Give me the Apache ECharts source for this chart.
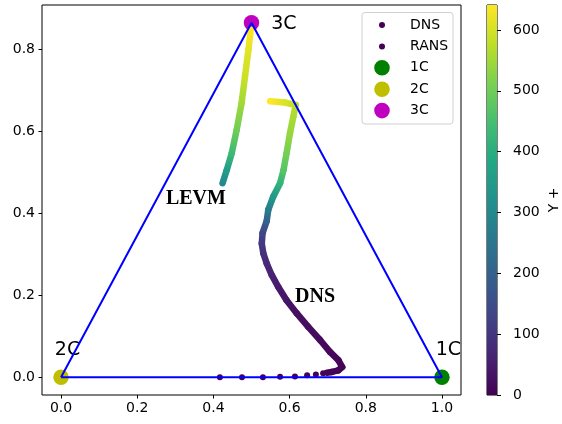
<!DOCTYPE html>
<html>
<head>
<meta charset="utf-8">
<script src="https://cdn.jsdelivr.net/npm/echarts@6/dist/echarts.min.js"></script>
<style>
html,body{margin:0;padding:0;background:#fff;}
#chart{width:562px;height:424px;}
</style>
</head>
<body>
<div id="chart"></div>
<script>
// ---------------- data ----------------
// DNS near-wall points (drawn as separate dots on the 2C line)
const dnsWallX  = [0.417, 0.475, 0.530, 0.575, 0.614, 0.646, 0.669, 0.688];
const dnsWallY  = [0.000, 0.000, 0.000, 0.001, 0.002, 0.005, 0.007, 0.010];
const dnsWallYp = [0.3, 0.8, 1.3, 1.9, 2.5, 3.1, 3.7, 4.3];

// DNS continuous trajectory
const dnsX  = [0.698, 0.711, 0.728, 0.738, 0.728, 0.706, 0.680, 0.649, 0.619, 0.592, 0.570, 0.553, 0.540, 0.531, 0.527, 0.529, 0.540, 0.544, 0.557, 0.575, 0.584, 0.592, 0.601, 0.610, 0.616, 0.588, 0.549];
const dnsY  = [0.011, 0.013, 0.017, 0.025, 0.042, 0.062, 0.091, 0.123, 0.156, 0.188, 0.221, 0.250, 0.278, 0.303, 0.327, 0.352, 0.382, 0.409, 0.441, 0.474, 0.506, 0.547, 0.596, 0.637, 0.665, 0.671, 0.674];
const dnsYp = [4.6, 5, 6, 8, 10, 13, 17, 22, 28, 36, 46, 58, 72, 88, 105, 130, 200, 265, 345, 415, 470, 505, 540, 560, 575, 605, 641];

// RANS (LEVM) trajectory
const levmX  = [0.424, 0.435, 0.448, 0.461, 0.474, 0.483, 0.492, 0.498];
const levmY  = [0.474, 0.506, 0.547, 0.604, 0.670, 0.735, 0.800, 0.849];
const levmYp = [300, 350, 435, 500, 550, 590, 615, 641];

// limiting states
const cornerNames = ['1C', '2C', '3C'];
const cornerX = [1.0, 0.0, 0.5];
const cornerY = [0.0, 0.0, 0.866];

// ticks
const xTicks = [0, 0.2, 0.4, 0.6, 0.8, 1.0];
const yTicks = [0, 0.2, 0.4, 0.6, 0.8];
const cbTicks = [0, 100, 200, 300, 400, 500, 600];
const cbMax = 641;

// ---------------- styles ----------------
const viridis = ['#440154','#482475','#414487','#355f8d','#2a788e','#21918c','#22a884','#44bf70','#7ad151','#bddf26','#fde725'];
const cornerColors = {'1C':'#008000','2C':'#bfbf00','3C':'#bf00bf'};
const FONT = 'DejaVu Sans';

const zip3 = (a,b,c) => a.map((v,i)=>[v,b[i],c[i]]);
const dnsWallData = zip3(dnsWallX, dnsWallY, dnsWallYp);
const dnsData = zip3(dnsX, dnsY, dnsYp);
const levmData = zip3(levmX, levmY, levmYp);
// triangle vertices taken from corner arrays: 2C -> 1C -> 3C -> 2C
const triData = [1,0,2,1].map(i => [cornerX[i], cornerY[i]]);

const yMinData = Math.min(...cornerY), yMaxData = Math.max(...cornerY);
const yPad = (yMaxData - yMinData) * 0.05;
const xPad = 0.05;

function renderSeg(params, api) {
  const i = params.dataIndexInside;
  if (i === 0) return null;
  const p0 = api.coord([api.value(0, i-1), api.value(1, i-1)]);
  const p1 = api.coord([api.value(0, i), api.value(1, i)]);
  const c0 = api.visual('color', i-1);
  const c1 = api.visual('color', i);
  let stroke = c1;
  if (Math.abs(p1[0]-p0[0]) + Math.abs(p1[1]-p0[1]) > 0.01) {
    stroke = new echarts.graphic.LinearGradient(p0[0], p0[1], p1[0], p1[1],
      [{offset:0, color:c0}, {offset:1, color:c1}], true);
  }
  return {
    type: 'line',
    shape: {x1:p0[0], y1:p0[1], x2:p1[0], y2:p1[1]},
    style: {stroke: stroke, lineWidth: 6.5, lineCap: 'round', fill: null}
  };
}

const smallIcon = 'path://M0,0M37,16M11,8a3,3 0 1,0 6,0a3,3 0 1,0 -6,0Z';
const bigIcon = 'path://M0,0M37,16M6.2,8a7.8,7.8 0 1,0 15.6,0a7.8,7.8 0 1,0 -15.6,0Z';

const chart = echarts.init(document.getElementById('chart'), null, {renderer:'canvas'});

const cornerSeries = cornerNames.map((n, k) => {
  const lab = {show:true, formatter:n, color:'#000', fontFamily:FONT, fontSize:19};
  if (n === '3C') { lab.position = 'right'; lab.distance = 12; lab.offset = [0, 1]; }
  else { lab.position = 'top'; lab.distance = 10; lab.offset = [6.5, 0]; }
  return {
    name: n, type: 'scatter', xAxisIndex:0, yAxisIndex:0,
    data: [[cornerX[k], cornerY[k]]],
    symbol: 'circle', symbolSize: 15.5,
    itemStyle: {color: cornerColors[n], opacity: 1},
    label: lab, z: 2, silent: true
  };
});

const axisCommon = {
  axisLine:{show:false, onZero:false}, splitLine:{show:false}
};

const option = {
  animation: false,
  backgroundColor: '#fff',
  textStyle: {fontFamily: FONT},
  grid: [
    {left: 42, right: 101, top: 5, bottom: 29, show: true, borderColor: '#000', borderWidth: 1, backgroundColor: 'transparent'},
    {left: 487, width: 20, top: 5, bottom: 29, show: true, borderColor: '#000', borderWidth: 1}
  ],
  xAxis: [
    Object.assign({type:'value', gridIndex:0, min: -xPad, max: 1 + xPad, position:'bottom',
     axisTick:{show:true, inside:false, customValues:xTicks, length:3.5, lineStyle:{color:'#000', width:1}},
     axisLabel:{show:true, customValues:xTicks, formatter:v=>v.toFixed(1), color:'#000', fontSize:14, fontFamily:FONT, margin:6}}, axisCommon),
    {type:'category', gridIndex:1, data:['Y+'], show:false}
  ],
  yAxis: [
    Object.assign({type:'value', gridIndex:0, min: yMinData - yPad, max: yMaxData + yPad, position:'left',
     axisTick:{show:true, inside:false, customValues:yTicks, length:3.5, lineStyle:{color:'#000', width:1}},
     axisLabel:{show:true, customValues:yTicks, formatter:v=>v.toFixed(1), color:'#000', fontSize:14, fontFamily:FONT, margin:7}}, axisCommon),
    Object.assign({type:'value', gridIndex:1, min:0, max:cbMax, position:'right',
     axisTick:{show:true, inside:false, customValues:cbTicks, length:4, lineStyle:{color:'#000', width:1}},
     axisLabel:{show:true, customValues:cbTicks, color:'#000', fontSize:14, fontFamily:FONT, margin:16},
     name:'Y +', nameLocation:'middle', nameRotate:90, nameGap:50,
     nameTextStyle:{color:'#000', fontSize:14, fontFamily:FONT}}, axisCommon)
  ],
  visualMap: {
    type:'continuous', show:false, min:0, max:cbMax, dimension:2,
    seriesIndex:[0,1,2], inRange:{color: viridis}
  },
  legend: {
    orient:'vertical', left:368, top:17, padding:0,
    itemWidth:37, itemHeight:16, itemGap:5.4,
    textStyle:{color:'#000', fontSize:14, fontFamily:FONT},
    selectedMode:false, z: 6,
    itemStyle:{opacity:1},
    data:[
      {name:'DNS', icon:smallIcon, itemStyle:{color:'#440154', opacity:1}},
      {name:'RANS', icon:smallIcon, itemStyle:{color:'#440154', opacity:1}},
      {name:'1C', icon:bigIcon, itemStyle:{color:cornerColors['1C'], opacity:1}},
      {name:'2C', icon:bigIcon, itemStyle:{color:cornerColors['2C'], opacity:1}},
      {name:'3C', icon:bigIcon, itemStyle:{color:cornerColors['3C'], opacity:1}}
    ]
  },
  graphic: [{
    type:'rect', z: 5,
    shape:{x:362, y:12.5, width:91, height:111.5, r:3},
    style:{fill:'rgba(255,255,255,0.8)', stroke:'#d0d0d0', lineWidth:1}
  }],
  series: [
    {name:'DNS', type:'scatter', xAxisIndex:0, yAxisIndex:0, data: dnsWallData,
     dimensions:['x','y','yplus'], encode:{x:0, y:1},
     symbolSize:6, itemStyle:{opacity:1}, z:3, silent:true},
    {name:'DNS', type:'custom', xAxisIndex:0, yAxisIndex:0, data: dnsData,
     dimensions:['x','y','yplus'], encode:{x:0, y:1},
     renderItem: renderSeg, z:3, silent:true},
    {name:'RANS', type:'custom', xAxisIndex:0, yAxisIndex:0, data: levmData,
     dimensions:['x','y','yplus'], encode:{x:0, y:1},
     renderItem: renderSeg, z:3, silent:true},
    ...cornerSeries,
    {name:'triangle', type:'line', xAxisIndex:0, yAxisIndex:0, data: triData,
     showSymbol:false, symbol:'none', lineStyle:{color:'#0000ff', width:2}, z:4, silent:true},
    {name:'notes', type:'scatter', xAxisIndex:0, yAxisIndex:0, symbolSize:0, silent:true, z:4,
     itemStyle:{opacity:1},
     data:[
       {value:[0.354, 0.437], label:{formatter:'LEVM'}},
       {value:[0.667, 0.196], label:{formatter:'DNS'}}
     ],
     label:{show:true, position:'inside', color:'#000', opacity:1, fontFamily:'Liberation Serif', fontWeight:'bold', fontSize:20}},
    {name:'Y+', type:'bar', xAxisIndex:1, yAxisIndex:1, data:[cbMax], barWidth:'100%', silent:true,
     itemStyle:{color: new echarts.graphic.LinearGradient(0,1,0,0,
       viridis.map((c,i)=>({offset:i/(viridis.length-1), color:c})))}}
  ]
};
chart.setOption(option);
</script>
</body>
</html>
